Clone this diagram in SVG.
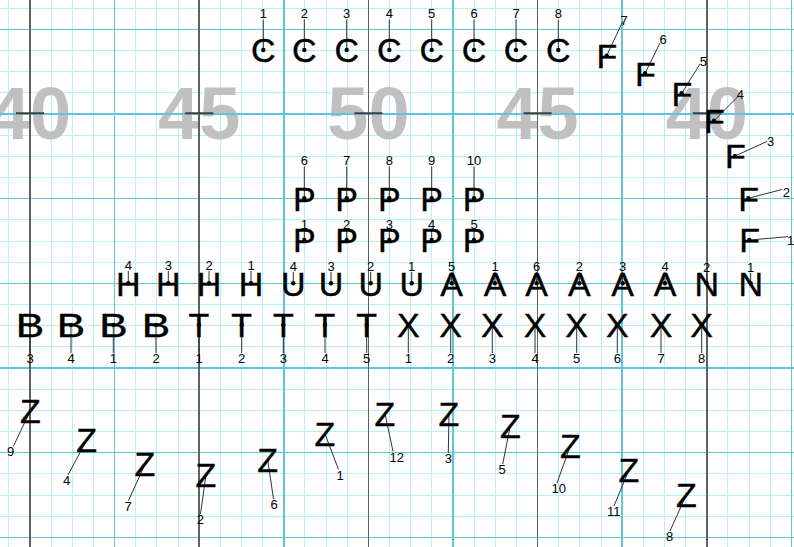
<svg xmlns="http://www.w3.org/2000/svg" width="794" height="547" viewBox="0 0 794 547">
<style>
.g1{stroke:#b4f1f8;stroke-width:1;fill:none}
.g2{stroke:#62c4dc;stroke-width:1.5;fill:none}
.g3{stroke:#5a6262;stroke-width:1.5;fill:none}
.yd{font:bold 74px "Liberation Sans",Arial,sans-serif;fill:#c0c0c0;text-anchor:middle}
.tk{stroke:#404040;stroke-width:2}
.m{font:34px "Liberation Sans",Arial,sans-serif;text-anchor:middle;fill:#000;stroke:#000;stroke-width:0.4}
.lb{font:13px "Liberation Sans",Arial,sans-serif;text-anchor:middle;fill:#000}
.ln{stroke:#333;stroke-width:1;fill:none}
.d{fill:#000}
</style>
<rect width="794" height="547" fill="#fff"/>
<g id="grid-light" class="g1" shape-rendering="crispEdges">
<path d="M8.85 0V547M51.15 0V547M72.3 0V547M93.45 0V547M135.75 0V547M156.9 0V547M178.05 0V547M220.35 0V547M241.5 0V547M262.65 0V547M304.95 0V547M326.1 0V547M347.25 0V547M389.55 0V547M410.7 0V547M431.85 0V547M474.15 0V547M495.3 0V547M516.45 0V547M558.75 0V547M579.9 0V547M601.05 0V547M643.35 0V547M664.5 0V547M685.65 0V547M727.95 0V547M749.1 0V547M770.25 0V547"/>
<path d="M0 8.13H794M0 50.47H794M0 71.64H794M0 92.81H794M0 135.15H794M0 156.32H794M0 177.49H794M0 219.83H794M0 241H794M0 262.17H794M0 304.51H794M0 325.68H794M0 346.85H794M0 389.19H794M0 410.36H794M0 431.53H794M0 473.87H794M0 495.04H794M0 516.21H794"/>
</g>
<g id="yard-numbers">
<text class="yd" x="30" y="138.5">40</text>
<text class="yd" x="199.2" y="138.5">45</text>
<text class="yd" x="368.4" y="138.5">50</text>
<text class="yd" x="537.6" y="138.5">45</text>
<text class="yd" x="706.8" y="138.5">40</text>
</g>
<g id="grid-major" shape-rendering="crispEdges">
<path class="g2" d="M114.6 0V547M283.8 0V547M453 0V547M622.2 0V547M791.4 0V547M0 29.3H794M0 113.98H794M0 198.66H794M0 283.34H794M0 368.02H794M0 452.7H794M0 537.38H794"/>
<path class="g3" d="M30 0V547M199.2 0V547M368.4 0V547M537.6 0V547M706.8 0V547"/>
</g>
<g id="hash-marks" class="tk">
<path d="M16 113.3H44M185.2 113.3H213.2M354.4 113.3H382.4M523.6 113.3H551.6M692.8 113.3H720.8"/>
</g>
<g id="connectors" class="ln">
<path d="M263.3 19.5V50M304.3 19.5V50M346.7 19.5V50M389.3 19.5V50M431.7 19.5V50M474 19.5V50M516 19.5V50M558.3 19.5V50"/>
<path d="M606.7 55.7L622.5 22M645 73.3L660 43M681.7 93.3L700 64M714 120.7L738 96.5M735 156L767 141.5M748.3 198.3L782 189.5M749.3 240L788 236.7"/>
<path d="M304.3 166.5V198.3M346.7 166.5V198.3M389.3 166.5V198.3M431.7 166.5V198.3M474 166.5V198.3"/>
<path d="M304.3 230V240M346.7 230V240M389.3 230V240M431.7 230V240M474 230V240"/>
<path d="M128.3 271V283.3M168.3 271V283.3M209 271V283.3M251 271V283.3M293.3 272V283.3M331 272V283.3M370.7 272V283.3M411.7 272V283.3M451.7 272V283.3M495 272V283.3M536.7 272V283.3M579.3 272V283.3M622.7 272V283.3M665 272V283.3M706.7 273V283.3M750.7 273V283.3"/>
<path d="M30 325V353M71 325V353M113.3 325V353M156 325V353M199 325V353M241.7 325V353M283.3 325V353M325 325V353M366.7 325V353M408.3 325V353M450.7 325V353M492.3 325V353M535 325V353M576.7 325V353M617.3 325V353M661 325V353M701.7 325V353"/>
<path d="M30.3 410.8L13.5 446M86.7 440.2L68 475M145 464.2L128.5 500.5M206 474.8L200.5 514M267.7 460.2L273.5 499M325 433.8L338.5 469.5M385 413.5L393 451.5M449 413.5L448.3 453M510.3 425.8L502.7 464M570.3 445.8L557 483M629 469.8L614 506M686.3 494.8L670 531"/>
</g>
<g id="C1"><text class="m" x="263.3" y="62.2">C</text><circle class="d" cx="263.3" cy="50" r="2.2"/><text class="lb" x="263.3" y="18.3">1</text></g>
<g id="C2"><text class="m" x="304.3" y="62.2">C</text><circle class="d" cx="304.3" cy="50" r="2.2"/><text class="lb" x="304.3" y="18.3">2</text></g>
<g id="C3"><text class="m" x="346.7" y="62.2">C</text><circle class="d" cx="346.7" cy="50" r="2.2"/><text class="lb" x="346.7" y="18.3">3</text></g>
<g id="C4"><text class="m" x="389.3" y="62.2">C</text><circle class="d" cx="389.3" cy="50" r="2.2"/><text class="lb" x="389.3" y="18.3">4</text></g>
<g id="C5"><text class="m" x="431.7" y="62.2">C</text><circle class="d" cx="431.7" cy="50" r="2.2"/><text class="lb" x="431.7" y="18.3">5</text></g>
<g id="C6"><text class="m" x="474" y="62.2">C</text><circle class="d" cx="474" cy="50" r="2.2"/><text class="lb" x="474" y="18.3">6</text></g>
<g id="C7"><text class="m" x="516" y="62.2">C</text><circle class="d" cx="516" cy="50" r="2.2"/><text class="lb" x="516" y="18.3">7</text></g>
<g id="C8"><text class="m" x="558.3" y="62.2">C</text><circle class="d" cx="558.3" cy="50" r="2.2"/><text class="lb" x="558.3" y="18.3">8</text></g>
<g id="F7"><text class="m" x="607" y="67.9">F</text><circle class="d" cx="606.7" cy="55.7" r="2.2"/><text class="lb" x="624" y="25">7</text></g>
<g id="F6"><text class="m" x="645.3" y="85.5">F</text><circle class="d" cx="645" cy="73.3" r="2.2"/><text class="lb" x="663" y="44.3">6</text></g>
<g id="F5"><text class="m" x="682" y="105.5">F</text><circle class="d" cx="681.7" cy="93.3" r="2.2"/><text class="lb" x="703.3" y="66">5</text></g>
<g id="F4"><text class="m" x="714.3" y="132.9">F</text><circle class="d" cx="714" cy="120.7" r="2.2"/><text class="lb" x="740.3" y="99.3">4</text></g>
<g id="F3"><text class="m" x="735.3" y="168.2">F</text><circle class="d" cx="735" cy="156" r="2.2"/><text class="lb" x="770.5" y="146">3</text></g>
<g id="F2"><text class="m" x="748.6" y="210.5">F</text><circle class="d" cx="748.3" cy="198.3" r="2.2"/><text class="lb" x="786.3" y="196.7">2</text></g>
<g id="F1"><text class="m" x="749.6" y="252.2">F</text><circle class="d" cx="749.3" cy="240" r="2.2"/><text class="lb" x="790.6" y="245">1</text></g>
<g id="P6"><text class="m" x="304.3" y="210.5">P</text><circle class="d" cx="304.3" cy="198.3" r="2.2"/><text class="lb" x="304.3" y="165.3">6</text></g>
<g id="P7"><text class="m" x="346.7" y="210.5">P</text><circle class="d" cx="346.7" cy="198.3" r="2.2"/><text class="lb" x="346.7" y="165.3">7</text></g>
<g id="P8"><text class="m" x="389.3" y="210.5">P</text><circle class="d" cx="389.3" cy="198.3" r="2.2"/><text class="lb" x="389.3" y="165.3">8</text></g>
<g id="P9"><text class="m" x="431.7" y="210.5">P</text><circle class="d" cx="431.7" cy="198.3" r="2.2"/><text class="lb" x="431.7" y="165.3">9</text></g>
<g id="P10"><text class="m" x="474" y="210.5">P</text><circle class="d" cx="474" cy="198.3" r="2.2"/><text class="lb" x="474" y="165.3">10</text></g>
<g id="P1"><text class="m" x="304.3" y="252.2">P</text><circle class="d" cx="304.3" cy="240" r="2.2"/><text class="lb" x="304.3" y="229.3">1</text></g>
<g id="P2"><text class="m" x="346.7" y="252.2">P</text><circle class="d" cx="346.7" cy="240" r="2.2"/><text class="lb" x="346.7" y="229.3">2</text></g>
<g id="P3"><text class="m" x="389.3" y="252.2">P</text><circle class="d" cx="389.3" cy="240" r="2.2"/><text class="lb" x="389.3" y="229.3">3</text></g>
<g id="P4"><text class="m" x="431.7" y="252.2">P</text><circle class="d" cx="431.7" cy="240" r="2.2"/><text class="lb" x="431.7" y="229.3">4</text></g>
<g id="P5"><text class="m" x="474" y="252.2">P</text><circle class="d" cx="474" cy="240" r="2.2"/><text class="lb" x="474" y="229.3">5</text></g>
<g id="H4"><text class="m" x="128.3" y="295.5">H</text><circle class="d" cx="128.3" cy="283.3" r="2.2"/><text class="lb" x="128.3" y="270">4</text></g>
<g id="H3"><text class="m" x="168.3" y="295.5">H</text><circle class="d" cx="168.3" cy="283.3" r="2.2"/><text class="lb" x="168.3" y="270">3</text></g>
<g id="H2"><text class="m" x="209" y="295.5">H</text><circle class="d" cx="209" cy="283.3" r="2.2"/><text class="lb" x="209" y="270">2</text></g>
<g id="H1"><text class="m" x="251" y="295.5">H</text><circle class="d" cx="251" cy="283.3" r="2.2"/><text class="lb" x="251" y="270">1</text></g>
<g id="U4"><text class="m" x="293.3" y="295.5">U</text><circle class="d" cx="293.3" cy="283.3" r="2.2"/><text class="lb" x="293.3" y="271">4</text></g>
<g id="U3"><text class="m" x="331" y="295.5">U</text><circle class="d" cx="331" cy="283.3" r="2.2"/><text class="lb" x="331" y="271">3</text></g>
<g id="U2"><text class="m" x="370.7" y="295.5">U</text><circle class="d" cx="370.7" cy="283.3" r="2.2"/><text class="lb" x="370.7" y="271">2</text></g>
<g id="U1"><text class="m" x="411.7" y="295.5">U</text><circle class="d" cx="411.7" cy="283.3" r="2.2"/><text class="lb" x="411.7" y="271">1</text></g>
<g id="A5"><text class="m" x="451.7" y="295.5">A</text><circle class="d" cx="451.7" cy="283.3" r="2.2"/><text class="lb" x="451.7" y="271">5</text></g>
<g id="A1"><text class="m" x="495" y="295.5">A</text><circle class="d" cx="495" cy="283.3" r="2.2"/><text class="lb" x="495" y="271">1</text></g>
<g id="A6"><text class="m" x="536.7" y="295.5">A</text><circle class="d" cx="536.7" cy="283.3" r="2.2"/><text class="lb" x="536.7" y="271">6</text></g>
<g id="A2"><text class="m" x="579.3" y="295.5">A</text><circle class="d" cx="579.3" cy="283.3" r="2.2"/><text class="lb" x="579.3" y="271">2</text></g>
<g id="A3"><text class="m" x="622.7" y="295.5">A</text><circle class="d" cx="622.7" cy="283.3" r="2.2"/><text class="lb" x="622.7" y="271">3</text></g>
<g id="A4"><text class="m" x="665" y="295.5">A</text><circle class="d" cx="665" cy="283.3" r="2.2"/><text class="lb" x="665" y="271">4</text></g>
<g id="N2"><text class="m" x="706.7" y="295.5">N</text><circle class="d" cx="706.7" cy="283.3" r="2.2"/><text class="lb" x="706.7" y="272">2</text></g>
<g id="N1"><text class="m" x="750.7" y="295.5">N</text><circle class="d" cx="750.7" cy="283.3" r="2.2"/><text class="lb" x="750.7" y="272">1</text></g>
<g id="B3"><text class="m" transform="translate(30 337.2) scale(1.25 1)">B</text><circle class="d" cx="30" cy="325" r="2.2"/><text class="lb" x="30" y="363">3</text></g>
<g id="B4"><text class="m" transform="translate(71 337.2) scale(1.25 1)">B</text><circle class="d" cx="71" cy="325" r="2.2"/><text class="lb" x="71" y="363">4</text></g>
<g id="B1"><text class="m" transform="translate(113.3 337.2) scale(1.25 1)">B</text><circle class="d" cx="113.3" cy="325" r="2.2"/><text class="lb" x="113.3" y="363">1</text></g>
<g id="B2"><text class="m" transform="translate(156 337.2) scale(1.25 1)">B</text><circle class="d" cx="156" cy="325" r="2.2"/><text class="lb" x="156" y="363">2</text></g>
<g id="T1"><text class="m" x="199" y="337.2">T</text><circle class="d" cx="199" cy="325" r="2.2"/><text class="lb" x="199" y="363">1</text></g>
<g id="T2"><text class="m" x="241.7" y="337.2">T</text><circle class="d" cx="241.7" cy="325" r="2.2"/><text class="lb" x="241.7" y="363">2</text></g>
<g id="T3"><text class="m" x="283.3" y="337.2">T</text><circle class="d" cx="283.3" cy="325" r="2.2"/><text class="lb" x="283.3" y="363">3</text></g>
<g id="T4"><text class="m" x="325" y="337.2">T</text><circle class="d" cx="325" cy="325" r="2.2"/><text class="lb" x="325" y="363">4</text></g>
<g id="T5"><text class="m" x="366.7" y="337.2">T</text><circle class="d" cx="366.7" cy="325" r="2.2"/><text class="lb" x="366.7" y="363">5</text></g>
<g id="X1"><text class="m" x="408.3" y="337.2">X</text><circle class="d" cx="408.3" cy="325" r="2.2"/><text class="lb" x="408.3" y="363">1</text></g>
<g id="X2"><text class="m" x="450.7" y="337.2">X</text><circle class="d" cx="450.7" cy="325" r="2.2"/><text class="lb" x="450.7" y="363">2</text></g>
<g id="X3"><text class="m" x="492.3" y="337.2">X</text><circle class="d" cx="492.3" cy="325" r="2.2"/><text class="lb" x="492.3" y="363">3</text></g>
<g id="X4"><text class="m" x="535" y="337.2">X</text><circle class="d" cx="535" cy="325" r="2.2"/><text class="lb" x="535" y="363">4</text></g>
<g id="X5"><text class="m" x="576.7" y="337.2">X</text><circle class="d" cx="576.7" cy="325" r="2.2"/><text class="lb" x="576.7" y="363">5</text></g>
<g id="X6"><text class="m" x="617.3" y="337.2">X</text><circle class="d" cx="617.3" cy="325" r="2.2"/><text class="lb" x="617.3" y="363">6</text></g>
<g id="X7"><text class="m" x="661" y="337.2">X</text><circle class="d" cx="661" cy="325" r="2.2"/><text class="lb" x="661" y="363">7</text></g>
<g id="X8"><text class="m" x="701.7" y="337.2">X</text><circle class="d" cx="701.7" cy="325" r="2.2"/><text class="lb" x="701.7" y="363">8</text></g>
<g id="Z9"><text class="m" x="30.3" y="423">Z</text><text class="lb" x="10.7" y="456">9</text></g>
<g id="Z4"><text class="m" x="86.7" y="452.4">Z</text><text class="lb" x="66.7" y="485">4</text></g>
<g id="Z7"><text class="m" x="145" y="476.4">Z</text><text class="lb" x="128" y="510.7">7</text></g>
<g id="Z2"><text class="m" x="206" y="487">Z</text><text class="lb" x="200.3" y="524.3">2</text></g>
<g id="Z6"><text class="m" x="267.7" y="472.4">Z</text><text class="lb" x="274.2" y="509.3">6</text></g>
<g id="Z1"><text class="m" x="325" y="446">Z</text><text class="lb" x="340" y="480">1</text></g>
<g id="Z12"><text class="m" x="385" y="425.7">Z</text><text class="lb" x="396.8" y="461.7">12</text></g>
<g id="Z3"><text class="m" x="449" y="425.7">Z</text><text class="lb" x="448.3" y="463.3">3</text></g>
<g id="Z5"><text class="m" x="510.3" y="438">Z</text><text class="lb" x="502" y="474.3">5</text></g>
<g id="Z10"><text class="m" x="570.3" y="458">Z</text><text class="lb" x="558.7" y="493.3">10</text></g>
<g id="Z11"><text class="m" x="629" y="482">Z</text><text class="lb" x="613.8" y="516">11</text></g>
<g id="Z8"><text class="m" x="686.3" y="507">Z</text><text class="lb" x="669.7" y="541">8</text></g>
</svg>
